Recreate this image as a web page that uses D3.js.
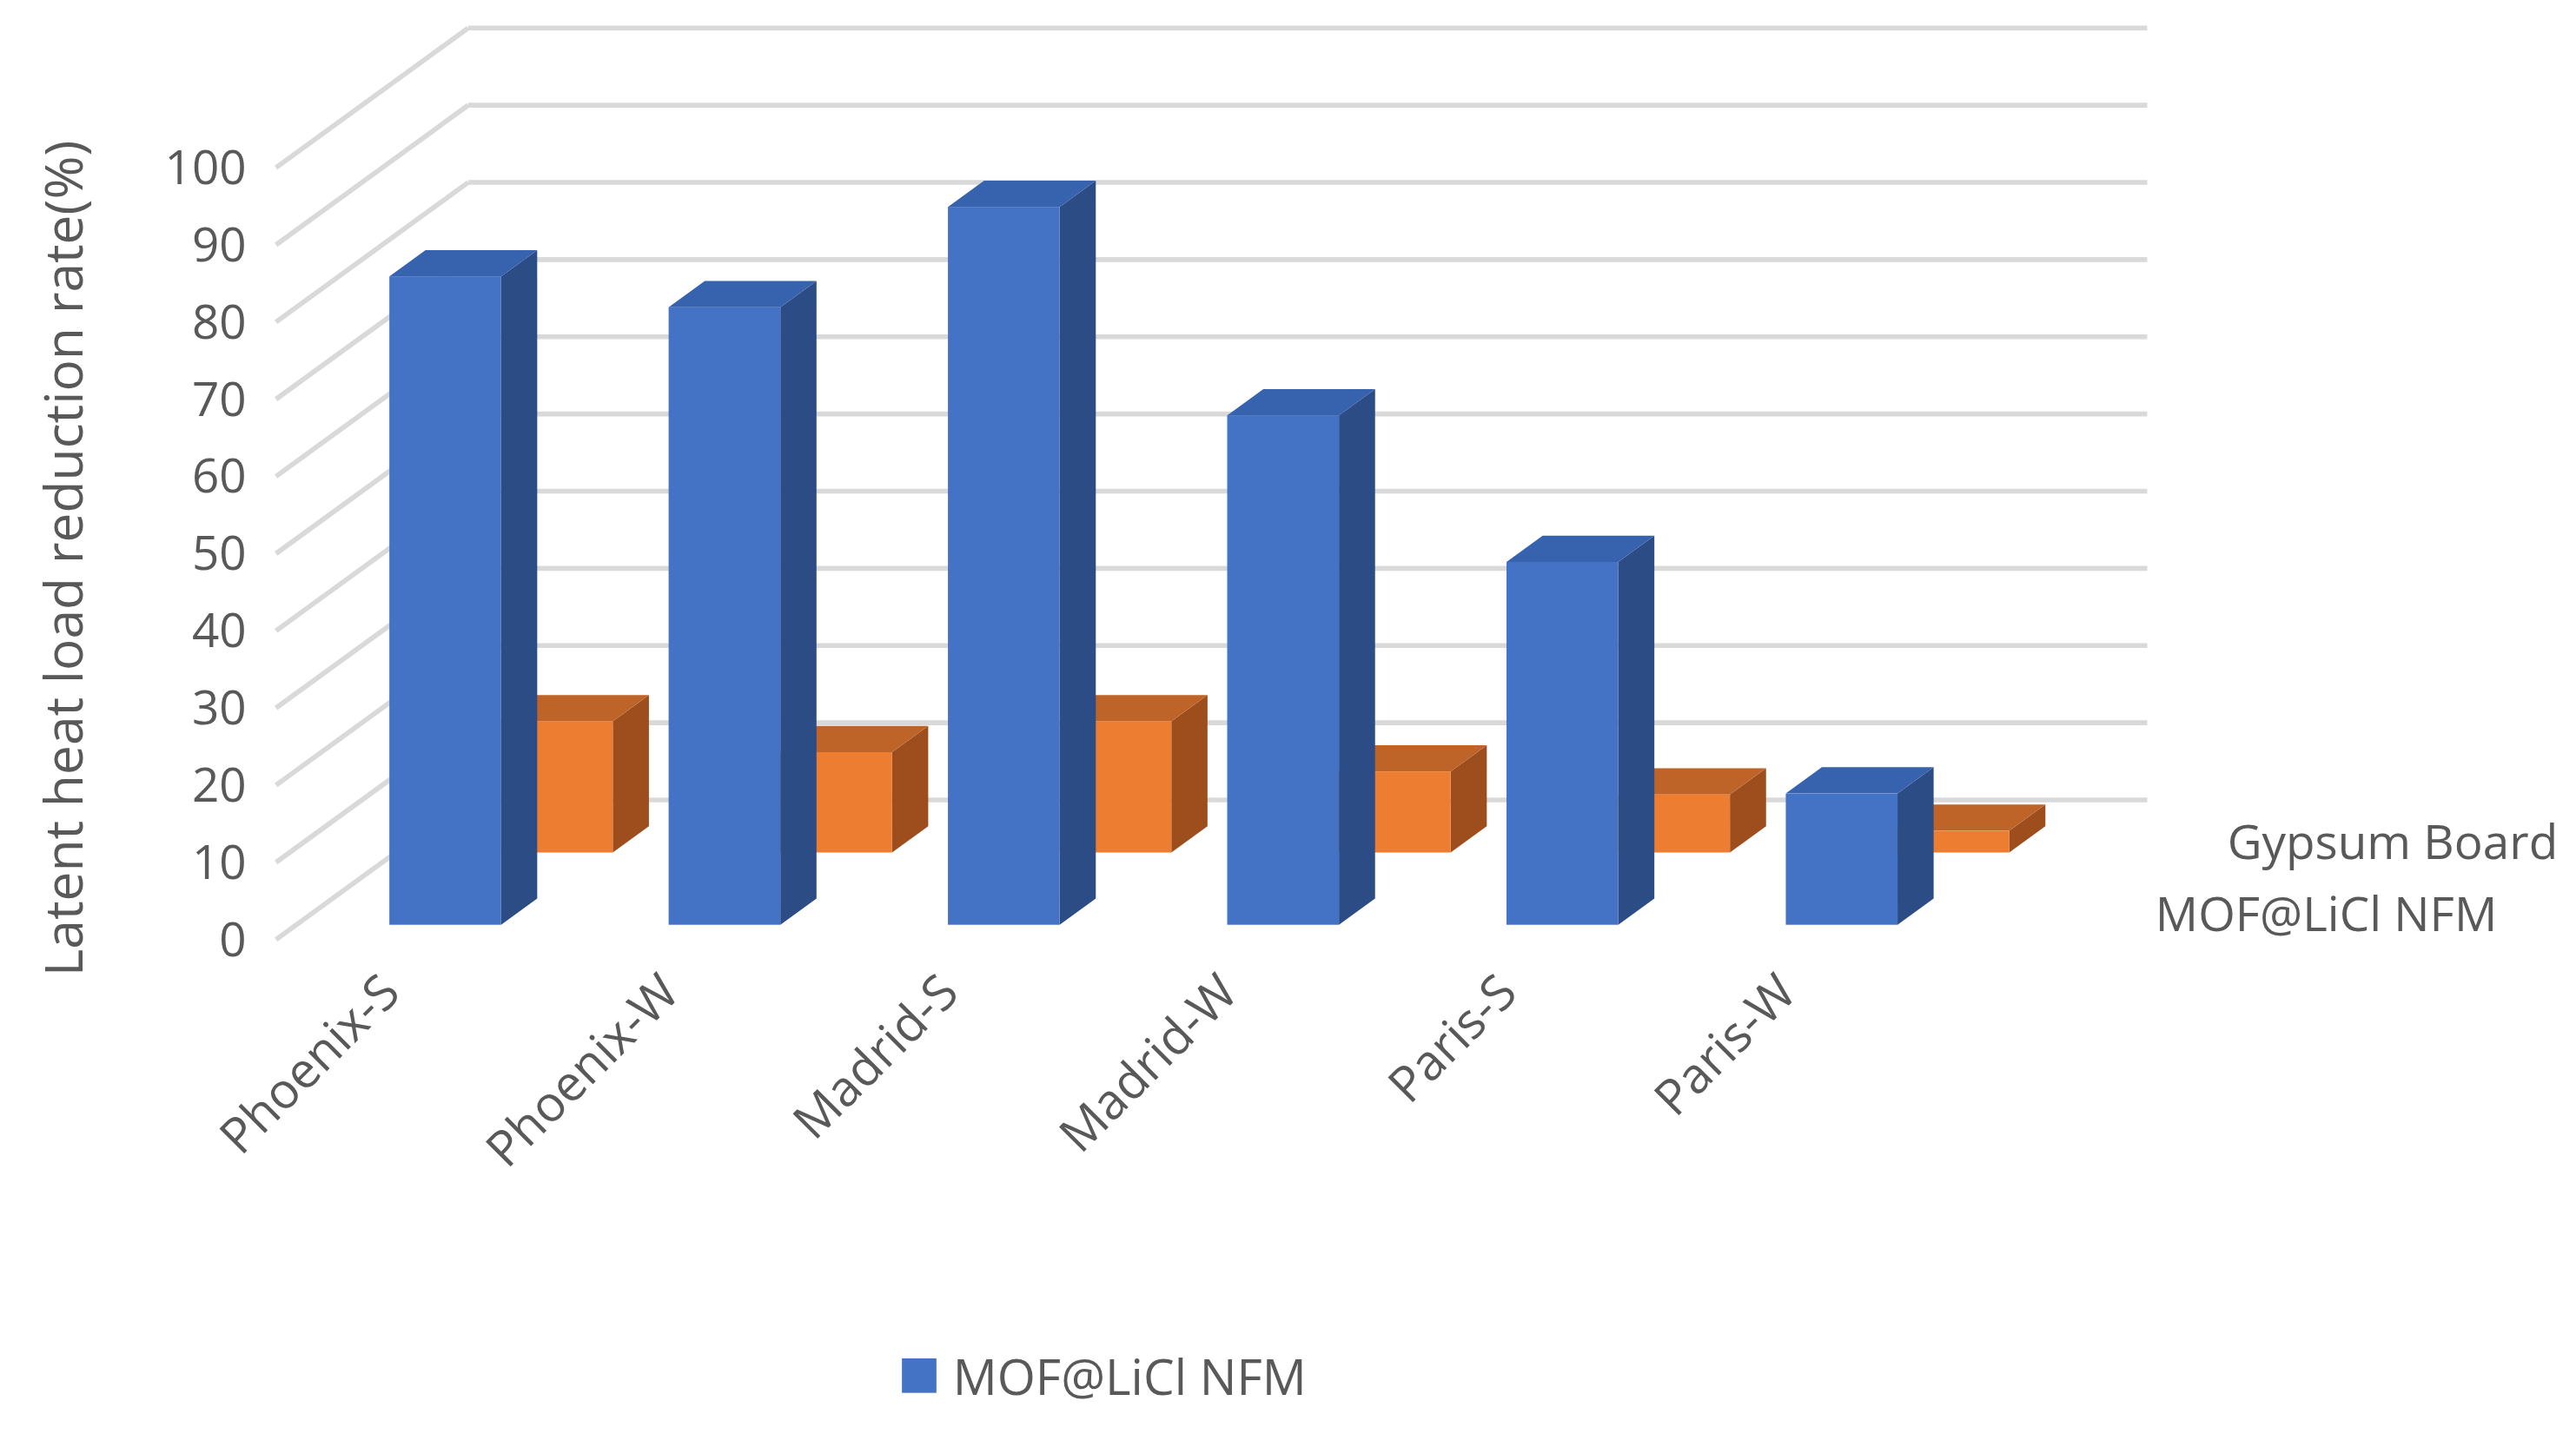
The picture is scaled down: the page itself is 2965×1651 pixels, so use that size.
<!DOCTYPE html>
<html>
<head>
<meta charset="utf-8">
<script src="https://cdn.jsdelivr.net/npm/d3@7"></script>
<style>body{margin:0;background:#fff}</style>
</head>
<body>
<script>
const categories = ["Phoenix-S", "Phoenix-W", "Madrid-S", "Madrid-W", "Paris-S", "Paris-W"]
const mofValues = [84, 80, 93, 66, 47, 17]
const gypsumValues = [17, 13, 17, 10.5, 7.5, 2.8]
const yTicks = [0, 10, 20, 30, 40, 50, 60, 70, 80, 90, 100]
const seriesNames = ["MOF@LiCl NFM", "Gypsum Board"]

const svg = d3.select("body").append("svg")
    .attr("width", 2965).attr("height", 1651)
    .attr("viewBox", "0 0 1568 873")
const font = "'Open Sans', 'Noto Sans', sans-serif"

// value -> pixel height
const h = d3.scaleLinear().domain([0, 100]).range([0, 470])
// category -> x of blue front face
const x = d3.scaleBand().domain(categories).range([237, 1257]).paddingInner(0)
const barW = 68, dX = 22, dY = -16
const rows = [
    {vals: mofValues, base: 563, dx: 0, front: "#4472C4", side: "#2C4C86", top: "#3762AE"},
    {vals: gypsumValues, base: 519, dx: 68, front: "#ED7D31", side: "#9E4E1C", top: "#BF6428"}
]

// gridlines: side wall diagonal + back wall
const frontY = v => 572 - h(v), backY = v => 487 - h(v)
yTicks.forEach(v => {
    svg.append("line").attr("x1", 168).attr("y1", frontY(v)).attr("x2", 285).attr("y2", backY(v))
        .attr("stroke", "#d9d9d9").attr("stroke-width", 3)
    svg.append("line").attr("x1", 285).attr("y1", backY(v)).attr("x2", 1307).attr("y2", backY(v))
        .attr("stroke", "#d9d9d9").attr("stroke-width", 3)
    svg.append("text").attr("x", 150).attr("y", frontY(v) + 10).attr("text-anchor", "end")
        .attr("font-family", font).attr("font-size", 29).attr("fill", "#595959").text(v)
})

// bars, back row first
rows.slice().reverse().forEach(r => {
    categories.forEach((c, i) => {
        const x0 = x(c) + r.dx, yb = r.base, yt = r.base - h(r.vals[i])
        svg.append("polygon").attr("fill", r.side)
            .attr("points", [[x0 + barW, yb], [x0 + barW, yt], [x0 + barW + dX, yt + dY], [x0 + barW + dX, yb + dY]].join(" "))
        svg.append("polygon").attr("fill", r.top)
            .attr("points", [[x0, yt], [x0 + barW, yt], [x0 + barW + dX, yt + dY], [x0 + dX, yt + dY]].join(" "))
        svg.append("rect").attr("x", x0).attr("y", yt).attr("width", barW).attr("height", yb - yt).attr("fill", r.front)
    })
})

// category labels
categories.forEach(c => {
    const ax = x(c) + 8, ay = 606
    svg.append("text").attr("transform", `translate(${ax},${ay}) rotate(-45)`)
        .attr("text-anchor", "end").attr("font-family", font).attr("font-size", 30)
        .attr("fill", "#595959").text(c)
})

// depth axis labels
svg.append("text").attr("x", 1557).attr("y", 523).attr("text-anchor", "end")
    .attr("font-family", font).attr("font-size", 29).attr("fill", "#595959").text(seriesNames[1])
svg.append("text").attr("x", 1520).attr("y", 567).attr("text-anchor", "end")
    .attr("font-family", font).attr("font-size", 29).attr("fill", "#595959").text(seriesNames[0])

// y title
svg.append("text").attr("transform", "translate(50,340) rotate(-90)").attr("text-anchor", "middle")
    .attr("font-family", font).attr("font-size", 32).attr("fill", "#595959")
    .text("Latent heat load reduction rate(%)")

// legend
svg.append("rect").attr("x", 549).attr("y", 827).attr("width", 21).attr("height", 21).attr("fill", "#4472C4")
svg.append("text").attr("x", 580).attr("y", 849).attr("font-family", font).attr("font-size", 30)
    .attr("fill", "#595959").text(seriesNames[0])
</script>
</body>
</html>
